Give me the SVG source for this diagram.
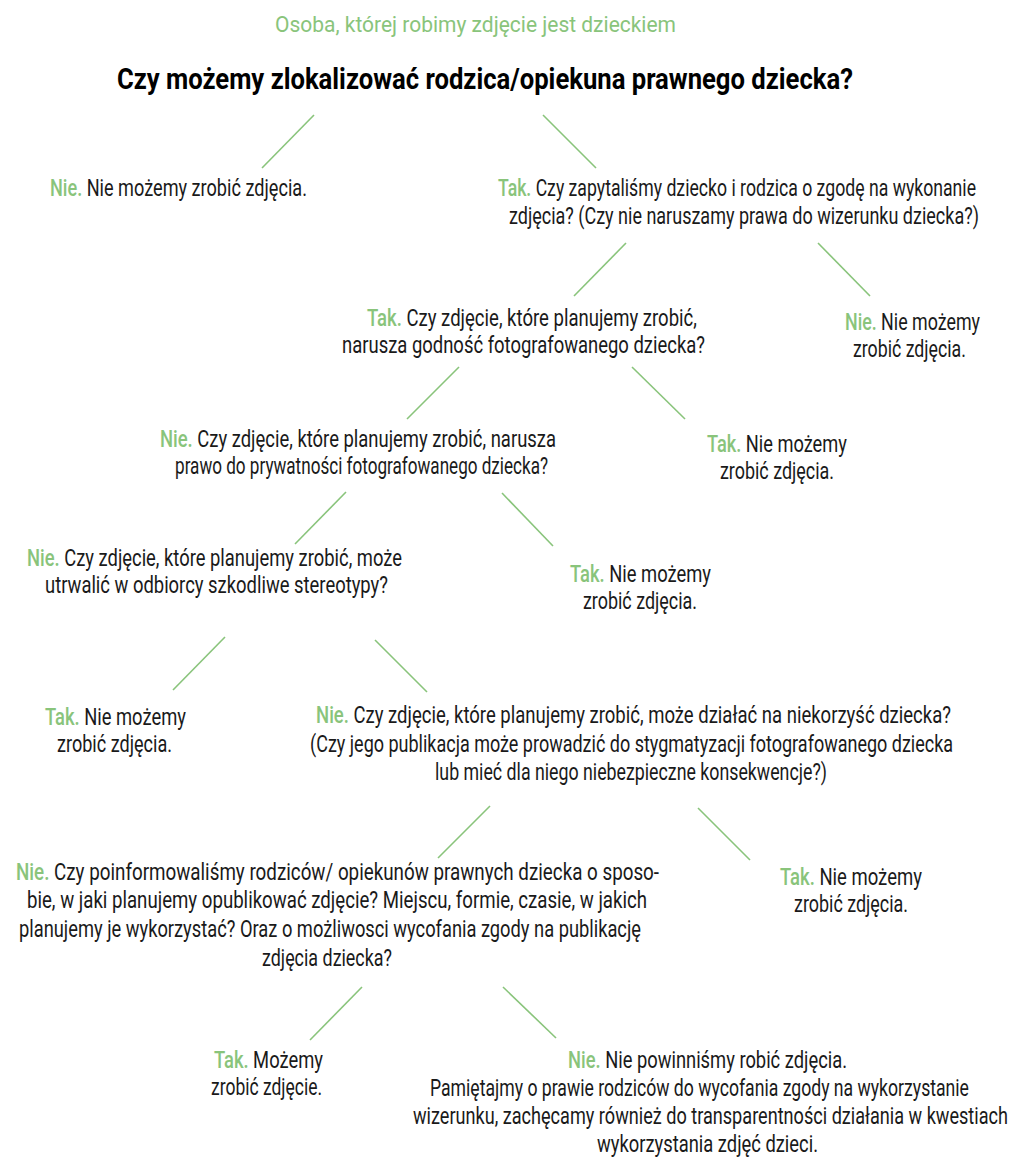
<svg xmlns="http://www.w3.org/2000/svg" width="1014" height="1159" viewBox="0 0 1014 1159">
<style>
text{font-family:Roboto,"Liberation Sans",sans-serif;font-size:23px;fill:#1a1a1a;}
.g{fill:#89c47b;font-weight:500;}
.sub{font-size:23px;fill:#89c47b;}
.title{font-size:30px;font-weight:bold;fill:#000;}
#connectors line{stroke:#89c47b;stroke-width:1.6;}
</style>
<rect width="1014" height="1159" fill="#fff"/>
<g id="connectors">
<line x1="314" y1="115" x2="262" y2="168"/>
<line x1="543" y1="115" x2="596" y2="168"/>
<line x1="626" y1="243" x2="574" y2="296"/>
<line x1="818" y1="243" x2="870" y2="296"/>
<line x1="459" y1="367" x2="407" y2="419"/>
<line x1="632" y1="367" x2="685" y2="419"/>
<line x1="346" y1="492" x2="295" y2="544"/>
<line x1="502" y1="493" x2="553" y2="546"/>
<line x1="225" y1="637" x2="173" y2="690"/>
<line x1="375" y1="640" x2="427" y2="692"/>
<line x1="490" y1="806" x2="438" y2="858"/>
<line x1="698" y1="808" x2="750" y2="860"/>
<line x1="362" y1="987" x2="310" y2="1040"/>
<line x1="503" y1="987" x2="556" y2="1038"/>
</g>
<g id="header" transform="scale(0.81 1)">
<text class="sub" x="339.5" y="32" textLength="495.1" lengthAdjust="spacingAndGlyphs">Osoba, której robimy zdjęcie jest dzieckiem</text>
</g>
<g id="q1" transform="scale(0.76 1)">
<text class="title" x="153.9" y="89" textLength="968.4" lengthAdjust="spacingAndGlyphs">Czy możemy zlokalizować rodzica/opiekuna prawnego dziecka?</text>
</g>
<g id="n1" transform="scale(0.72 1)">
<text x="69.4" y="196" textLength="356.9" lengthAdjust="spacingAndGlyphs"><tspan class="g">Nie.</tspan> Nie możemy zrobić zdjęcia.</text>
</g>
<g id="q2" transform="scale(0.72 1)">
<text x="691.7" y="196" textLength="663.9" lengthAdjust="spacingAndGlyphs"><tspan class="g">Tak.</tspan> Czy zapytaliśmy dziecko i rodzica o zgodę na wykonanie</text>
<text x="706.9" y="224" textLength="652.8" lengthAdjust="spacingAndGlyphs">zdjęcia? (Czy nie naruszamy prawa do wizerunku dziecka?)</text>
</g>
<g id="q3" transform="scale(0.72 1)">
<text x="509.7" y="326" textLength="458.3" lengthAdjust="spacingAndGlyphs"><tspan class="g">Tak.</tspan> Czy zdjęcie, które planujemy zrobić,</text>
<text x="475" y="353" textLength="504.2" lengthAdjust="spacingAndGlyphs">narusza godność fotografowanego dziecka?</text>
</g>
<g id="n2" transform="scale(0.72 1)">
<text x="1173.6" y="330" textLength="187.5" lengthAdjust="spacingAndGlyphs"><tspan class="g">Nie.</tspan> Nie możemy</text>
<text x="1184.7" y="357" textLength="156.9" lengthAdjust="spacingAndGlyphs">zrobić zdjęcia.</text>
</g>
<g id="q4" transform="scale(0.72 1)">
<text x="222.2" y="447" textLength="550" lengthAdjust="spacingAndGlyphs"><tspan class="g">Nie.</tspan> Czy zdjęcie, które planujemy zrobić, narusza</text>
<text x="243.1" y="474" textLength="518.1" lengthAdjust="spacingAndGlyphs">prawo do prywatności fotografowanego dziecka?</text>
</g>
<g id="n3" transform="scale(0.72 1)">
<text x="981.9" y="452" textLength="194.4" lengthAdjust="spacingAndGlyphs"><tspan class="g">Tak.</tspan> Nie możemy</text>
<text x="1000" y="479" textLength="158.3" lengthAdjust="spacingAndGlyphs">zrobić zdjęcia.</text>
</g>
<g id="q5" transform="scale(0.72 1)">
<text x="37.5" y="566" textLength="520.8" lengthAdjust="spacingAndGlyphs"><tspan class="g">Nie.</tspan> Czy zdjęcie, które planujemy zrobić, może</text>
<text x="62.5" y="593" textLength="476.4" lengthAdjust="spacingAndGlyphs">utrwalić w odbiorcy szkodliwe stereotypy?</text>
</g>
<g id="n4" transform="scale(0.72 1)">
<text x="791.7" y="582" textLength="195.8" lengthAdjust="spacingAndGlyphs"><tspan class="g">Tak.</tspan> Nie możemy</text>
<text x="809.7" y="609" textLength="158.3" lengthAdjust="spacingAndGlyphs">zrobić zdjęcia.</text>
</g>
<g id="n5" transform="scale(0.72 1)">
<text x="62.5" y="725" textLength="195.8" lengthAdjust="spacingAndGlyphs"><tspan class="g">Tak.</tspan> Nie możemy</text>
<text x="79.2" y="752" textLength="159.7" lengthAdjust="spacingAndGlyphs">zrobić zdjęcia.</text>
</g>
<g id="q6" transform="scale(0.72 1)">
<text x="438.9" y="723" textLength="881.9" lengthAdjust="spacingAndGlyphs"><tspan class="g">Nie.</tspan> Czy zdjęcie, które planujemy zrobić, może działać na niekorzyść dziecka?</text>
<text x="430.6" y="752" textLength="893.1" lengthAdjust="spacingAndGlyphs">(Czy jego publikacja może prowadzić do stygmatyzacji fotografowanego dziecka</text>
<text x="604.2" y="780" textLength="544.4" lengthAdjust="spacingAndGlyphs">lub mieć dla niego niebezpieczne konsekwencje?)</text>
</g>
<g id="q7" transform="scale(0.72 1)">
<text x="22.2" y="880" textLength="893.1" lengthAdjust="spacingAndGlyphs"><tspan class="g">Nie.</tspan> Czy poinformowaliśmy rodziców/ opiekunów prawnych dziecka o sposo-</text>
<text x="37.5" y="908" textLength="861.1" lengthAdjust="spacingAndGlyphs">bie, w jaki planujemy opublikować zdjęcie? Miejscu, formie, czasie, w jakich</text>
<text x="26.4" y="937" textLength="863.9" lengthAdjust="spacingAndGlyphs">planujemy je wykorzystać? Oraz o możliwosci wycofania zgody na publikację</text>
<text x="363.9" y="966" textLength="180.6" lengthAdjust="spacingAndGlyphs">zdjęcia dziecka?</text>
</g>
<g id="n6" transform="scale(0.72 1)">
<text x="1083.3" y="885" textLength="197.2" lengthAdjust="spacingAndGlyphs"><tspan class="g">Tak.</tspan> Nie możemy</text>
<text x="1102.8" y="912" textLength="158.3" lengthAdjust="spacingAndGlyphs">zrobić zdjęcia.</text>
</g>
<g id="end-yes" transform="scale(0.72 1)">
<text x="297.2" y="1068" textLength="151.4" lengthAdjust="spacingAndGlyphs"><tspan class="g">Tak.</tspan> Możemy</text>
<text x="293.1" y="1095" textLength="154.2" lengthAdjust="spacingAndGlyphs">zrobić zdjęcie.</text>
</g>
<g id="end-no" transform="scale(0.72 1)">
<text x="788.9" y="1068" textLength="387.5" lengthAdjust="spacingAndGlyphs"><tspan class="g">Nie.</tspan> Nie powinniśmy robić zdjęcia.</text>
<text x="597.2" y="1096" textLength="748.6" lengthAdjust="spacingAndGlyphs">Pamiętajmy o prawie rodziców do wycofania zgody na wykorzystanie</text>
<text x="573.6" y="1124" textLength="826.4" lengthAdjust="spacingAndGlyphs">wizerunku, zachęcamy również do transparentności działania w kwestiach</text>
<text x="829.2" y="1152" textLength="306.9" lengthAdjust="spacingAndGlyphs">wykorzystania zdjęć dzieci.</text>
</g>
</svg>
